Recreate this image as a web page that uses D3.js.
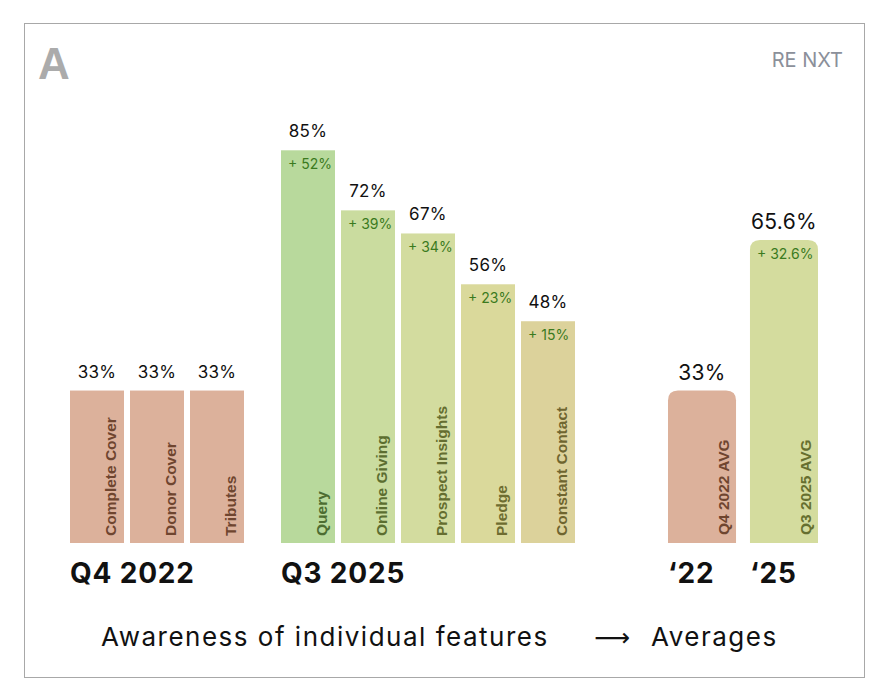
<!DOCTYPE html>
<html>
<head>
<meta charset="utf-8">
<script src="https://cdn.jsdelivr.net/npm/d3@7"></script>
<style>
  body { margin: 0; background: #fff; }
  svg { display: block; }
</style>
</head>
<body>
<svg width="888" height="699"></svg>
<script>
// values
var q4Features = ["Complete Cover", "Donor Cover", "Tributes"];
var q4Values = [33, 33, 33];

var q3Features = ["Query", "Online Giving", "Prospect Insights", "Pledge", "Constant Contact"];
var q3Values = [85, 72, 67, 56, 48];
var q3Deltas = [52, 39, 34, 23, 15];

var avgLabels = ["Q4 2022 AVG", "Q3 2025 AVG"];
var avgValues = [33, 65.6];
var avgDeltas = [null, 32.6];
var avgTitles = ["\u201822", "\u201825"];

var groupTitles = ["Q4 2022", "Q3 2025"];

var q4Colors = ["#dcb19b", "#dcb19b", "#dcb19b"];
var q3Colors = ["#b8d99c", "#cadc9f", "#d3dc9f", "#dad99b", "#dcd29b"];
var avgColors = ["#dcb19b", "#d4dc9e"];

var svg = d3.select("svg");
var sans = "Inter, 'Noto Sans', sans-serif";
var arial = "'Liberation Sans', Arial, sans-serif";

// frame
svg.append("rect")
	.attr("x", 24.5).attr("y", 23.5)
	.attr("width", 840).attr("height", 654)
	.attr("fill", "#fff")
	.attr("stroke", "#a8a8a8");

svg.append("text")
	.attr("x", 38).attr("y", 79)
	.attr("font-family", arial).attr("font-weight", "bold")
	.attr("font-size", 44).attr("fill", "#ababab")
	.text("A");

svg.append("text")
	.attr("x", 843).attr("y", 67)
	.attr("text-anchor", "end")
	.attr("font-family", sans).attr("font-size", 20)
	.attr("fill", "#8b909a")
	.text("RE NXT");

var y = d3.scaleLinear().domain([0, 100]).range([543, 81]);

var xQ4 = d3.scaleBand().domain(q4Features).range([70, 244]).paddingInner(0.1);
var xQ3 = d3.scaleBand().domain(q3Features).range([281, 575]).paddingInner(0.1);
var xAvg = d3.scaleBand().domain(avgLabels).range([668, 818]).paddingInner(0.17);

// darker tone of the bar colour for the rotated names
function labelColor(c) {
	var h = d3.hsl(c);
	h.l = 0.31;
	h.s = Math.min(1, h.s * 0.85);
	return h + "";
}

function roundedTop(x, yTop, w, h, r) {
	return "M" + x + "," + (yTop + h) +
		"V" + (yTop + r) +
		"Q" + x + "," + yTop + " " + (x + r) + "," + yTop +
		"H" + (x + w - r) +
		"Q" + (x + w) + "," + yTop + " " + (x + w) + "," + (yTop + r) +
		"V" + (yTop + h) + "Z";
}

function drawGroup(names, values, deltas, colors, x) {
	var rows = names.map(function (n, i) {
		return {name: n, value: values[i], delta: deltas ? deltas[i] : null, color: colors[i]};
	});

	var g = svg.append("g");

	var bar = g.selectAll("g")
		.data(rows)
		.enter()
		.append("g");

	bar.append("rect")
		.attr("x", function (d) { return x(d.name); })
		.attr("y", function (d) { return y(d.value); })
		.attr("width", x.bandwidth())
		.attr("height", function (d) { return y(0) - y(d.value); })
		.attr("fill", function (d) { return d.color; });

	bar.append("text")
		.attr("x", function (d) { return x(d.name) + x.bandwidth() / 2; })
		.attr("y", function (d) { return y(d.value) - 13; })
		.attr("text-anchor", "middle")
		.attr("font-family", sans).attr("font-size", 17)
		.attr("letter-spacing", 0.3)
		.attr("fill", "#111")
		.text(function (d) { return d.value + "%"; });

	bar.filter(function (d) { return d.delta != null; })
		.append("text")
		.attr("x", function (d) { return x(d.name) + 7; })
		.attr("y", function (d) { return y(d.value) + 19; })
		.attr("font-family", sans).attr("font-size", 14)
		.attr("fill", "#3b7a1e")
		.text(function (d) { return "+ " + d.delta + "%"; });

	bar.append("text")
		.attr("transform", function (d) {
			return "translate(" + (x(d.name) + x.bandwidth() - 8) + "," + (y(0) - 7) + ") rotate(-90)";
		})
		.attr("font-family", arial).attr("font-weight", "bold").attr("font-size", 15.5)
		.attr("fill", function (d) { return labelColor(d.color); })
		.text(function (d) { return d.name; });
}

drawGroup(q4Features, q4Values, null, q4Colors, xQ4);
drawGroup(q3Features, q3Values, q3Deltas, q3Colors, xQ3);

// averages
var avgRows = avgLabels.map(function (n, i) {
	return {name: n, value: avgValues[i], delta: avgDeltas[i], color: avgColors[i], title: avgTitles[i]};
});

var avg = svg.append("g").selectAll("g")
	.data(avgRows)
	.enter()
	.append("g");

avg.append("path")
	.attr("d", function (d) {
		return roundedTop(xAvg(d.name), y(d.value), xAvg.bandwidth(), y(0) - y(d.value), 10);
	})
	.attr("fill", function (d) { return d.color; });

avg.append("text")
	.attr("x", function (d) { return xAvg(d.name) + xAvg.bandwidth() / 2; })
	.attr("y", function (d) { return y(d.value) - 11; })
	.attr("text-anchor", "middle")
	.attr("font-family", sans).attr("font-size", 21)
	.attr("letter-spacing", 0.3)
	.attr("fill", "#111")
	.text(function (d) { return d.value + "%"; });

avg.filter(function (d) { return d.delta != null; })
	.append("text")
	.attr("x", function (d) { return xAvg(d.name) + 7; })
	.attr("y", function (d) { return y(d.value) + 19; })
	.attr("font-family", sans).attr("font-size", 14)
	.attr("fill", "#3b7a1e")
	.text(function (d) { return "+ " + d.delta + "%"; });

avg.append("text")
	.attr("transform", function (d) {
		return "translate(" + (xAvg(d.name) + xAvg.bandwidth() - 7) + "," + (y(0) - 8) + ") rotate(-90)";
	})
	.attr("font-family", arial).attr("font-weight", "bold").attr("font-size", 15.5)
	.attr("fill", function (d) { return labelColor(d.color); })
	.text(function (d) { return d.name; });

avg.append("text")
	.attr("x", function (d) { return xAvg(d.name); })
	.attr("y", 583)
	.attr("font-family", sans).attr("font-weight", "bold").attr("font-size", 28)
	.attr("letter-spacing", 0.8)
	.attr("fill", "#111")
	.text(function (d) { return d.title; });

// group titles
svg.append("g").selectAll("text")
	.data([xQ4(q4Features[0]), xQ3(q3Features[0])])
	.enter()
	.append("text")
	.attr("x", function (d) { return d; })
	.attr("y", 583)
	.attr("font-family", sans).attr("font-weight", "bold").attr("font-size", 28)
	.attr("letter-spacing", 0.8)
	.attr("fill", "#111")
	.text(function (d, i) { return groupTitles[i]; });

// footer
svg.append("text")
	.attr("x", 101).attr("y", 646)
	.attr("font-family", sans).attr("font-size", 26)
	.attr("letter-spacing", 1.5)
	.attr("fill", "#111")
	.text("Awareness of individual features");

svg.append("text")
	.attr("x", 612).attr("y", 646)
	.attr("text-anchor", "middle")
	.attr("font-family", "'DejaVu Sans', sans-serif").attr("font-size", 25)
	.attr("fill", "#111")
	.text("\u27F6");

svg.append("text")
	.attr("x", 651).attr("y", 646)
	.attr("font-family", sans).attr("font-size", 26)
	.attr("letter-spacing", 1.5)
	.attr("fill", "#111")
	.text("Averages");
</script>
</body>
</html>
